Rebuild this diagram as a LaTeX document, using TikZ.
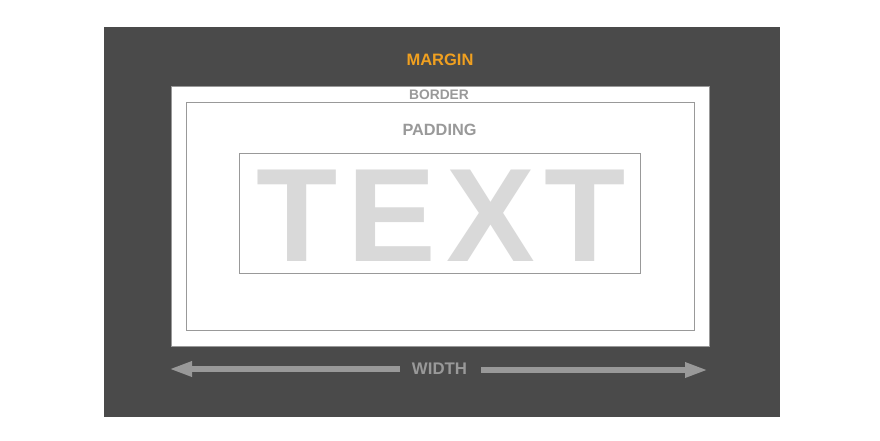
\documentclass[tikz,border=0pt]{standalone}
\usepackage{fontspec}
\setmainfont{Liberation Sans}
\usetikzlibrary{arrows.meta}
\definecolor{darkbg}{HTML}{4A4A4A}
\definecolor{linegray}{HTML}{999999}
\definecolor{margorange}{HTML}{F0A020}
\definecolor{textgray}{HTML}{D9D9D9}
\begin{document}
\begin{tikzpicture}[x=1pt,y=-1pt,
  boxline/.style={draw=linegray,line width=1pt},
  lbl/.style={inner sep=0pt,anchor=base,font=\bfseries},
  widtharrow/.style={draw=linegray,line width=6pt,-{Triangle[length=23pt,width=14pt]}}]
\useasboundingbox (0,0) rectangle (880,440);
\fill[darkbg] (104,27) rectangle (780,417);
\draw[boxline,fill=white] (171,86) rectangle (709,346);
\draw[boxline] (186,102) rectangle (694,330);
\draw[boxline] (239,153) rectangle (640,273);
\node[lbl,text=margorange,font=\fontsize{16.5}{18}\selectfont\bfseries] (margin) at (440,65) {MARGIN};
\node[lbl,text=linegray,font=\fontsize{13.8}{16}\selectfont\bfseries] (border) at (439,99) {BORDER};
\node[lbl,text=linegray,font=\fontsize{16.3}{18}\selectfont\bfseries] (padding) at (439.5,135) {PADDING};
\node[lbl,text=textgray,font=\fontsize{133}{140}\selectfont\bfseries] (text) at (441.3,261) {T\hspace{10pt}E\hspace{10pt}X\hspace{10pt}T};
\node[lbl,text=linegray,font=\fontsize{16.8}{18}\selectfont\bfseries] (width) at (439.5,374) {WIDTH};
\coordinate (lstart) at (400,369);
\coordinate (ltip) at (169,369);
\coordinate (rstart) at (481,370);
\coordinate (rtip) at (708,370);
\draw[widtharrow] (lstart) -- (ltip);
\draw[widtharrow] (rstart) -- (rtip);
\end{tikzpicture}
\end{document}
